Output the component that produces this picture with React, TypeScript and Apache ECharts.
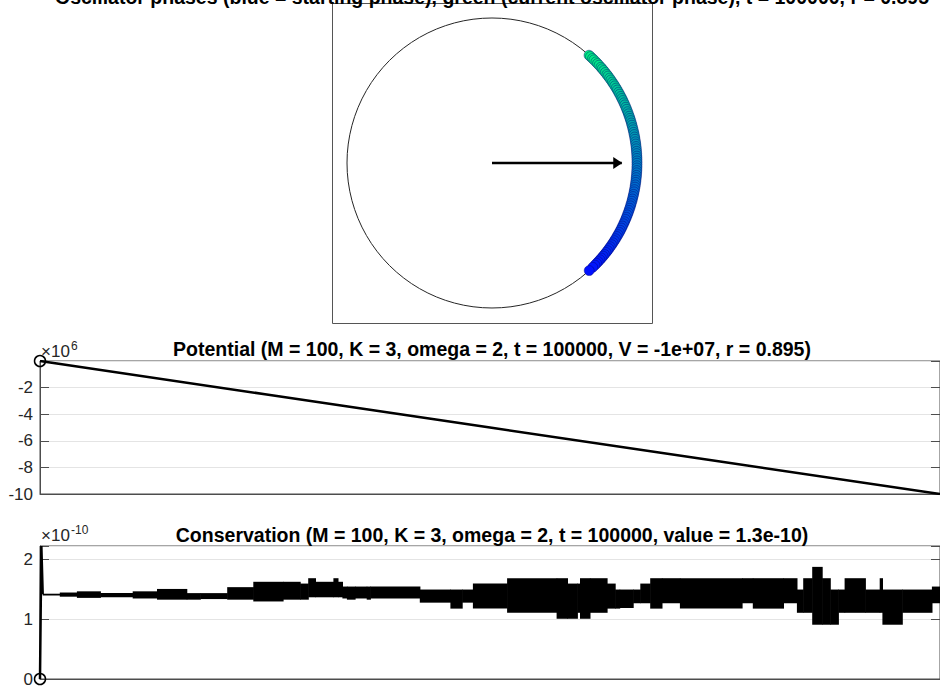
import React, { useEffect, useRef } from 'react';
import * as echarts from 'echarts';

const FONT = '"Liberation Sans", Arial, Helvetica, sans-serif';

// ---- texts ----
const phaseTitle = 'Oscillator phases (blue = starting phase), green (current oscillator phase), t = 100000, r = 0.895';
const potentialTitle = 'Potential (M = 100, K = 3, omega = 2, t = 100000, V = -1e+07, r = 0.895)';
const conservationTitle = 'Conservation (M = 100, K = 3, omega = 2, t = 100000, value = 1.3e-10)';

// ---- phase plot (degrees, drawn from top/green to bottom/blue) ----
const phaseAngles = [
  48.0, 47.2, 46.1, 45.3, 44.2, 43.3, 42.4, 41.3, 40.5, 39.6,
  38.6, 37.6, 36.8, 35.8, 34.9, 33.9, 33.0, 32.1, 31.1, 30.2,
  29.2, 28.3, 27.3, 26.4, 25.5, 24.5, 23.6, 22.6, 21.7, 20.7,
  19.8, 18.8, 17.9, 17.0, 16.0, 15.1, 14.1, 13.2, 12.2, 11.3,
  10.3, 9.4, 8.4, 7.5, 6.5, 5.6, 4.6, 3.7, 2.7, 1.8,
  0.8, -0.1, -1.1, -2.0, -3.0, -3.9, -4.9, -5.8, -6.8, -7.7,
  -8.7, -9.6, -10.6, -11.5, -12.5, -13.4, -14.4, -15.3, -16.3, -17.2,
  -18.2, -19.1, -20.1, -21.0, -22.0, -22.9, -23.9, -24.8, -25.8, -26.7,
  -27.7, -28.6, -29.6, -30.5, -31.5, -32.4, -33.4, -34.3, -35.3, -36.2,
  -37.2, -38.1, -39.1, -40.0, -41.0, -41.9, -42.9, -43.8, -44.8, -46.0, -47.9,
];
const orderParameter = 0.895;
const meanPhase = 0;

// ---- potential (V in units of 1e6) ----
const potentialT = [0, 25000, 50000, 75000, 100000];
const potentialV = [0, -2.5, -5, -7.5, -10];

// ---- conservation (values in units of 1e-10) ----
const consStartT = [0, 150, 300];
const consStartV = [0, 2.23, 1.42];
// piecewise-constant envelope of the fast oscillation: segment i spans consT[i]..consT[i+1]
const consT = [
  300, 2200, 4100, 6700, 10300, 13000, 16300, 17800, 20800, 23700,
  27000, 28900, 29800, 30600, 32600, 33100, 33600, 34100, 35000, 36300,
  36700, 42200, 45600, 46900, 48100, 51900, 57400, 58600, 59700, 60000,
  61100, 63000, 63900, 64400, 65900, 66700, 67800, 69100, 71100, 78000,
  79200, 82600, 84100, 84800, 85800, 86900, 87800, 88700, 89400, 91700,
  93300, 93600, 95800, 99100, 100000,
];
const consUpper = [
  1.43, 1.45, 1.47, 1.44, 1.47, 1.51, 1.44, 1.44, 1.54, 1.63,
  1.63, 1.60, 1.69, 1.63, 1.69, 1.63, 1.55, 1.55, 1.55, 1.55,
  1.55, 1.50, 1.50, 1.50, 1.60, 1.69, 1.69, 1.60, 1.60, 1.69,
  1.69, 1.60, 1.50, 1.50, 1.50, 1.60, 1.69, 1.69, 1.69, 1.69,
  1.69, 1.69, 1.50, 1.69, 1.88, 1.69, 1.50, 1.50, 1.69, 1.50,
  1.69, 1.50, 1.50, 1.55, 1.55,
];
const consLower = [
  1.40, 1.38, 1.36, 1.37, 1.35, 1.33, 1.33, 1.34, 1.33, 1.30,
  1.33, 1.33, 1.37, 1.37, 1.37, 1.37, 1.35, 1.33, 1.35, 1.33,
  1.35, 1.28, 1.18, 1.28, 1.18, 1.11, 1.01, 1.01, 1.11, 1.01,
  1.11, 1.18, 1.18, 1.19, 1.27, 1.27, 1.18, 1.27, 1.18, 1.27,
  1.18, 1.27, 1.11, 1.11, 0.91, 0.91, 0.91, 1.11, 1.11, 1.11,
  1.11, 0.91, 1.11, 1.27, 1.27,
];

const AXIS = '#4d4d4d';
const GRIDLINE = '#e4e4e4';
const LABEL = '#262626';

function yAxisPair(gridIndex: number, min: number, max: number, interval: number, hide: (v: number) => boolean) {
  const common = {
    type: 'value', gridIndex, min, max, interval,
    axisLine: { show: true, lineStyle: { color: AXIS, width: 1 } },
    axisTick: { show: true, inside: true, length: 9, lineStyle: { color: AXIS } },
  };
  return [
    {
      ...common, position: 'left',
      axisLabel: {
        show: true, color: LABEL, fontFamily: FONT, fontSize: 17, margin: 7,
        formatter: (v: number) => (hide(v) ? '' : String(Math.round(v * 100) / 100)),
      },
      splitLine: { show: true, lineStyle: { color: GRIDLINE, width: 1 } },
    },
    {
      ...common, position: 'right',
      axisLabel: { show: false },
      splitLine: { show: false },
    },
  ];
}

function xAxisFor(gridIndex: number) {
  return {
    type: 'value', gridIndex, min: 0, max: 100000,
    axisLine: { show: true, onZero: false, lineStyle: { color: AXIS, width: 1 } },
    axisTick: { show: false }, axisLabel: { show: false }, splitLine: { show: false },
  };
}

function text(t: string, x: number, y: number, font: string, align = 'center', fill = '#000') {
  return {
    type: 'text', x, y, z: 100,
    style: { text: t, font, fill, textAlign: align, align, textVerticalAlign: 'bottom', verticalAlign: 'bottom' },
  };
}

function buildOption() {
  const openCircle = (size: number) => ({
    symbol: 'circle', symbolSize: size,
    itemStyle: { color: 'rgba(255,255,255,0)', borderColor: '#000', borderWidth: 1.5 },
  });
  const potentialData = potentialT.map((t, i) =>
    i === 0 ? { value: [t, potentialV[i]], ...openCircle(11) } : { value: [t, potentialV[i]], symbol: 'none' });
  const consStartData = consStartT.map((t, i) =>
    i === 0 ? { value: [t, consStartV[i]], ...openCircle(11) } : { value: [t, consStartV[i]], symbol: 'none' });
  const bandData = consT.slice(0, -1).map((t, i) => [t, consT[i + 1], consLower[i], consUpper[i]]);

  return {
    animation: false,
    backgroundColor: '#fff',
    textStyle: { fontFamily: FONT },
    polar: { center: [492, 163], radius: 145 },
    angleAxis: {
      type: 'value', min: -180, max: 180, startAngle: 180, clockwise: false,
      axisLine: { show: true, lineStyle: { color: '#262626', width: 1 } },
      axisTick: { show: false }, axisLabel: { show: false }, splitLine: { show: false },
    },
    radiusAxis: {
      type: 'value', min: 0, max: 1,
      axisLine: { show: false }, axisTick: { show: false }, axisLabel: { show: false }, splitLine: { show: false },
    },
    grid: [
      { left: 40, top: 361, right: -1, height: 133, show: true, borderColor: AXIS, borderWidth: 1, backgroundColor: '#fff' },
      { left: 40, top: 546, right: -1, height: 133, show: true, borderColor: AXIS, borderWidth: 1, backgroundColor: '#fff' },
    ],
    xAxis: [xAxisFor(0), xAxisFor(1)],
    yAxis: [
      ...yAxisPair(0, -10, 0, 2, (v) => v === 0),
      ...yAxisPair(1, 0, 2.23, 1, (v) => Math.abs(v - Math.round(v)) > 1e-6),
    ],
    visualMap: {
      type: 'continuous', show: false, seriesIndex: 0, dimension: 1,
      min: -48, max: 48, inRange: { color: ['#0010ff', '#00f080'] },
    },
    series: [
      {
        type: 'scatter', coordinateSystem: 'polar', silent: true,
        symbol: 'circle', symbolSize: 10,
        itemStyle: { borderColor: 'rgba(0,0,110,0.45)', borderWidth: 0.9, opacity: 1 },
        data: phaseAngles.map((a) => [1, a]),
      },
      {
        type: 'line', coordinateSystem: 'polar', silent: true,
        lineStyle: { color: '#000', width: 2.5 }, showSymbol: true, showAllSymbol: true,
        itemStyle: { color: '#000' },
        data: [
          { value: [0, meanPhase], symbol: 'none' },
          { value: [orderParameter, meanPhase], symbol: 'path://M0,0 L10,6 L0,12 Z', symbolSize: [9, 12], symbolOffset: [-4, 0], symbolKeepAspect: false },
        ],
      },
      {
        type: 'line', xAxisIndex: 0, yAxisIndex: 0, silent: true,
        showSymbol: true, showAllSymbol: true,
        lineStyle: { color: '#000', width: 2.5 },
        data: potentialData,
      },
      {
        type: 'custom', xAxisIndex: 1, yAxisIndex: 2, silent: true,
        encode: { x: [0, 1], y: [2, 3] },
        renderItem: (_params: any, api: any) => {
          const p0 = api.coord([api.value(0), api.value(3)]);
          const p1 = api.coord([api.value(1), api.value(2)]);
          return {
            type: 'rect',
            shape: { x: p0[0], y: p0[1], width: p1[0] - p0[0] + 0.6, height: p1[1] - p0[1] },
            style: { fill: '#000' },
          };
        },
        data: bandData,
      },
      {
        type: 'line', xAxisIndex: 1, yAxisIndex: 2, silent: true,
        showSymbol: true, showAllSymbol: true,
        lineStyle: { color: '#000', width: 2.5 },
        data: consStartData,
      },
    ],
    graphic: [
      { type: 'rect', z: 50, shape: { x: 332.5, y: 3.5, width: 320, height: 320 }, style: { fill: 'none', stroke: '#555', lineWidth: 1 } },
      text(phaseTitle, 492, 7, `bold 19.5px ${FONT}`),
      text(potentialTitle, 492, 359, `bold 19.5px ${FONT}`),
      text(conservationTitle, 492, 545, `bold 19.5px ${FONT}`),
      text('\u00d710', 41, 360, `17px ${FONT}`, 'left', LABEL),
      text('6', 71, 352, `12px ${FONT}`, 'left', LABEL),
      text('\u00d710', 41, 544, `17px ${FONT}`, 'left', LABEL),
      text('-10', 71, 536, `12px ${FONT}`, 'left', LABEL),
    ],
  };
}

export default function App() {
  const ref = useRef<HTMLDivElement>(null);
  useEffect(() => {
    const chart = echarts.init(ref.current!, null, { renderer: 'svg' });
    chart.setOption(buildOption() as any);
    return () => chart.dispose();
  }, []);
  return (
    <div
      ref={ref}
      style={{ position: 'fixed', left: 0, top: 0, width: 940, height: 688, background: '#fff' }}
    />
  );
}
